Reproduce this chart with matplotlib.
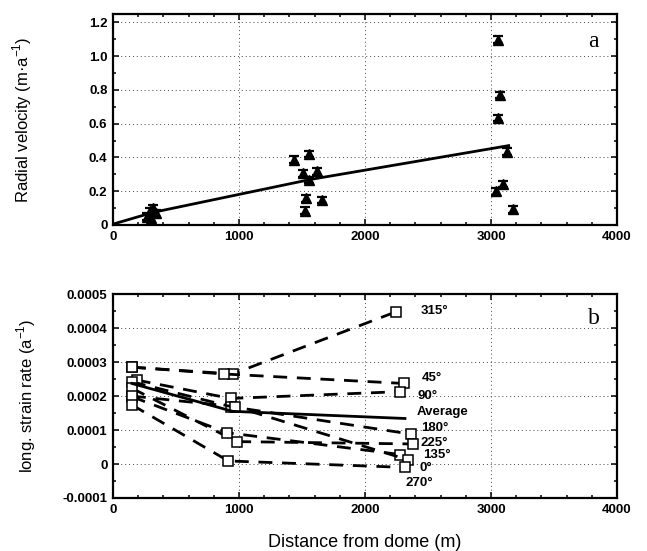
"""
Radial velocity (a) and longitudinal strain rate (b) against distance from the dome.
"""

import matplotlib
matplotlib.use("Agg")
import matplotlib.pyplot as plt
from matplotlib.ticker import MultipleLocator, FixedLocator

plt.rcParams["font.family"] = ["Liberation Sans", "DejaVu Sans"]

# --- (a) radial velocity ---
vel_x = [270, 295, 315, 340, 305,
         1437, 1558, 1511, 1622, 1558, 1532, 1656, 1524,
         3058, 3071, 3058, 3129, 3093, 3037, 3172]
vel_y = [0.05, 0.08, 0.10, 0.07, 0.04,
         0.386, 0.421, 0.307, 0.317, 0.267, 0.158, 0.148, 0.085,
         1.098, 0.770, 0.633, 0.435, 0.243, 0.200, 0.093]
vel_err = 0.02
fit_x = [0, 320, 1570, 3140]
fit_y = [0.005, 0.075, 0.27, 0.47]

# --- (b) longitudinal strain rate, one series per direction ---
dir_labels = ["315°", "45°", "90°", "180°", "225°", "135°", "0°", "270°"]
dir_x = [
    [150, 950, 2246],
    [150, 880, 2312],
    [188, 935, 2278],
    [150, 935, 2365],
    [150, 982, 2384],
    [150, 907, 2278],
    [150, 968, 2344],
    [150, 915, 2317],
]
dir_y = [
    [2.85e-4, 2.65e-4, 4.48e-4],
    [2.85e-4, 2.65e-4, 2.37e-4],
    [2.47e-4, 1.93e-4, 2.13e-4],
    [2.42e-4, 1.69e-4, 0.88e-4],
    [2.23e-4, 0.66e-4, 0.59e-4],
    [1.98e-4, 0.92e-4, 0.28e-4],
    [2.00e-4, 1.69e-4, 0.12e-4],
    [1.74e-4, 0.09e-4, -0.10e-4],
]
avg_x = [150, 950, 2317]
avg_y = [2.37e-4, 1.55e-4, 1.34e-4]

label_text = dir_labels + ["Average"]
label_x = [2441, 2449, 2418, 2449, 2444, 2458, 2436, 2325, 2410]
label_y = [4.50e-4, 2.54e-4, 2.01e-4, 1.05e-4, 0.63e-4, 0.26e-4, -0.13e-4, -0.57e-4, 1.52e-4]


def style_axes(ax):
    for s in ax.spines.values():
        s.set_linewidth(1.6)
    ax.tick_params(which="both", direction="in", top=True, right=True, width=1.1)
    ax.tick_params(which="major", length=4, labelsize=9.5, pad=4)
    ax.tick_params(which="minor", length=2.5)
    ax.grid(True, which="major", color="#444444", linestyle=(0, (1, 3)), linewidth=0.7)
    ax.set_axisbelow(True)
    ax.set_xlim(0, 4000)
    ax.xaxis.set_major_locator(MultipleLocator(1000))
    ax.xaxis.set_minor_locator(MultipleLocator(200))
    for lab in ax.get_xticklabels() + ax.get_yticklabels():
        lab.set_fontweight("bold")


fig = plt.figure(figsize=(6.47, 5.51), dpi=100)
ax1 = fig.add_axes([0.1747, 0.5917, 0.779, 0.383])
ax2 = fig.add_axes([0.1747, 0.0962, 0.779, 0.370])

# --- panel a ---
ax1.plot(fit_x, fit_y, color="black", linewidth=2.0, zorder=3)
ax1.errorbar(vel_x, vel_y, yerr=vel_err, fmt="^", color="black", markersize=7.5,
             capsize=3.5, elinewidth=1.2, capthick=1.6, zorder=4)
ax1.set_ylim(0, 1.25)
ax1.yaxis.set_major_locator(FixedLocator([0, 0.2, 0.4, 0.6, 0.8, 1.0, 1.2]))
ax1.yaxis.set_minor_locator(MultipleLocator(0.1))
ax1.set_yticklabels(["0", "0.2", "0.4", "0.6", "0.8", "1.0", "1.2"])
ax1.set_ylabel("Radial velocity (m·a$^{\\mathregular{-1}}$)", fontsize=12)
ax1.yaxis.set_label_coords(-0.157, 0.5)
ax1.text(3770, 1.086, "a", family=["Liberation Serif", "DejaVu Serif"], fontsize=17,
         ha="left", va="center")
style_axes(ax1)

# --- panel b ---
for xs, ys in zip(dir_x, dir_y):
    ax2.plot(xs, ys, color="black", linewidth=2.0, linestyle=(0, (5, 3.5)),
             marker="s", markersize=7, markerfacecolor="white",
             markeredgecolor="black", markeredgewidth=1.1, zorder=3)
ax2.plot(avg_x, avg_y, color="black", linewidth=2.0, zorder=3)
for t, tx, ty in zip(label_text, label_x, label_y):
    ax2.text(tx, ty, t, fontsize=9.5, fontweight="bold", ha="left", va="center")
ax2.set_ylim(-0.0001, 0.0005)
ax2.set_yticks([-0.0001, 0, 0.0001, 0.0002, 0.0003, 0.0004, 0.0005])
ax2.yaxis.set_minor_locator(MultipleLocator(0.00005))
ax2.set_yticklabels(["-0.0001", "0", "0.0001", "0.0002", "0.0003", "0.0004", "0.0005"])
ax2.set_ylabel("long. strain rate (a$^{\\mathregular{-1}}$)", fontsize=12)
ax2.yaxis.set_label_coords(-0.149, 0.5)
ax2.set_xlabel("Distance from dome (m)", fontsize=13)
ax2.xaxis.set_label_coords(0.5, -0.176)
ax2.text(3770, 0.000429, "b", family=["Liberation Serif", "DejaVu Serif"], fontsize=17,
         ha="left", va="center")
style_axes(ax2)

fig.savefig("out.png", dpi=100)
plt.close(fig)
